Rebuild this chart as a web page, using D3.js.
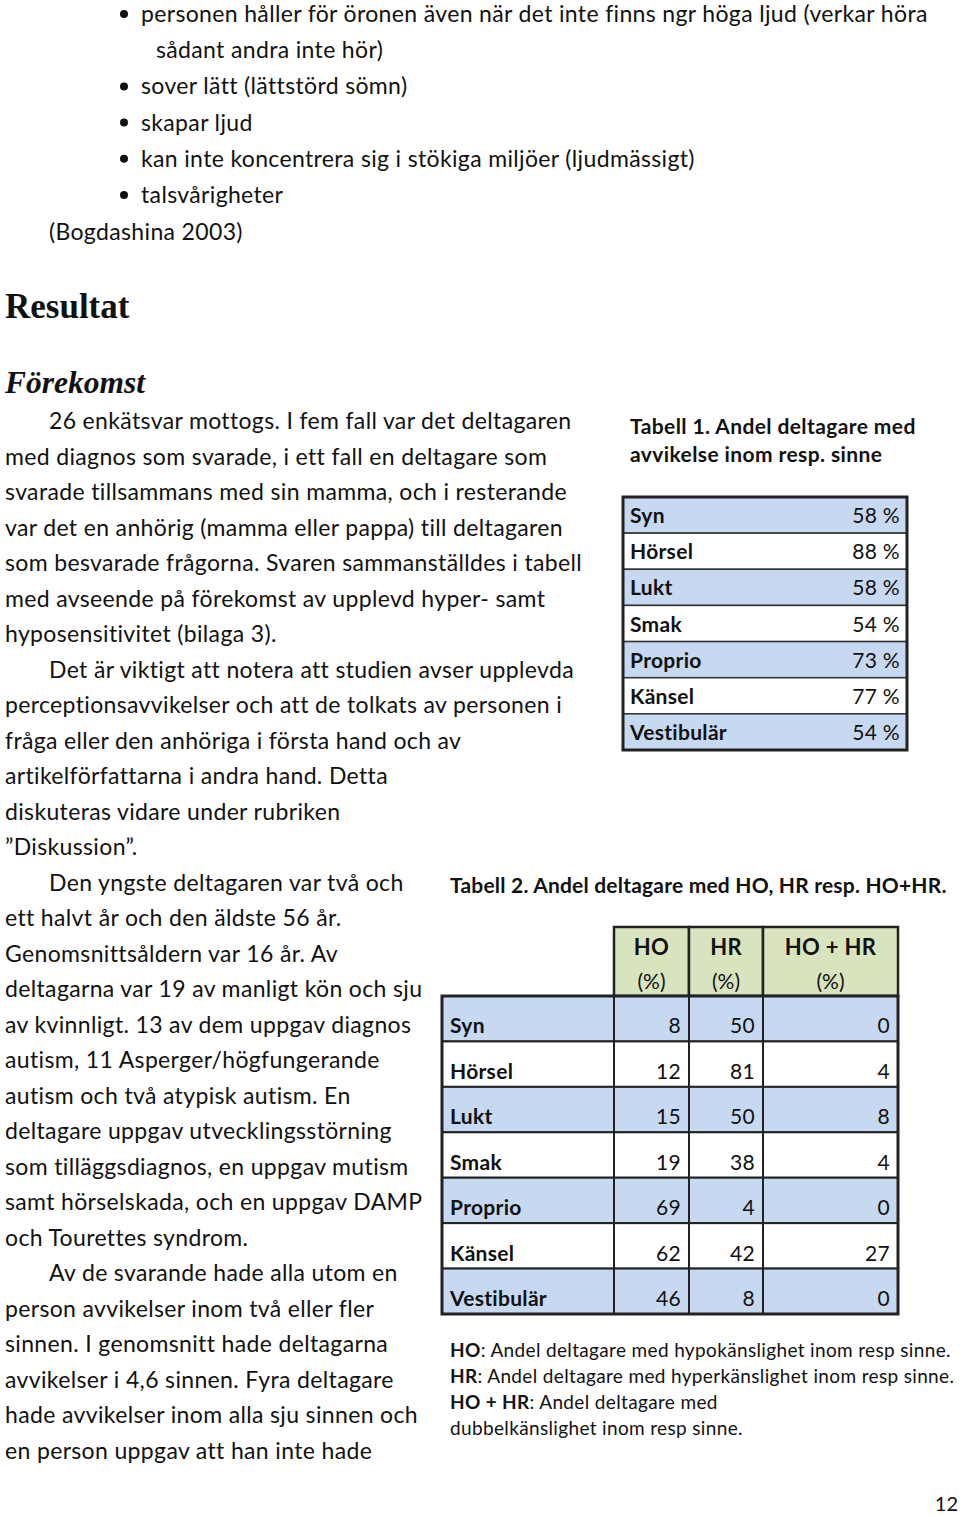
<!DOCTYPE html>
<html><head><meta charset="utf-8">
<script src="https://cdn.jsdelivr.net/npm/d3@7"></script>
<style>body{margin:0;background:#fff}svg{display:block}text{font-variant-ligatures:none}</style>
</head><body>
<svg id="page" width="960" height="1515"></svg>
<script>
// ---- data ----
const bullets = [
  ["personen håller för öronen även när det inte finns ngr höga ljud (verkar höra", "sådant andra inte hör)"],
  ["sover lätt (lättstörd sömn)"],
  ["skapar ljud"],
  ["kan inte koncentrera sig i stökiga miljöer (ljudmässigt)"],
  ["talsvårigheter"]
];
const bodyLines = [
  "26 enkätsvar mottogs. I fem fall var det deltagaren",
  "med diagnos som svarade, i ett fall en deltagare som",
  "svarade tillsammans med sin mamma, och i resterande",
  "var det en anhörig (mamma eller pappa) till deltagaren",
  "som besvarade frågorna. Svaren sammanställdes i tabell",
  "med avseende på förekomst av upplevd hyper- samt",
  "hyposensitivitet (bilaga 3).",
  "Det är viktigt att notera att studien avser upplevda",
  "perceptionsavvikelser och att de tolkats av personen i",
  "fråga eller den anhöriga i första hand och av",
  "artikelförfattarna i andra hand. Detta",
  "diskuteras vidare under rubriken",
  "”Diskussion”.",
  "Den yngste deltagaren var två och",
  "ett halvt år och den äldste 56 år.",
  "Genomsnittsåldern var 16 år. Av",
  "deltagarna var 19 av manligt kön och sju",
  "av kvinnligt. 13 av dem uppgav diagnos",
  "autism, 11 Asperger/högfungerande",
  "autism och två atypisk autism. En",
  "deltagare uppgav utvecklingsstörning",
  "som tilläggsdiagnos, en uppgav mutism",
  "samt hörselskada, och en uppgav DAMP",
  "och Tourettes syndrom.",
  "Av de svarande hade alla utom en",
  "person avvikelser inom två eller fler",
  "sinnen. I genomsnitt hade deltagarna",
  "avvikelser i 4,6 sinnen. Fyra deltagare",
  "hade avvikelser inom alla sju sinnen och",
  "en person uppgav att han inte hade"
];
const indentedLines = [0, 7, 13, 24];
const senses = ["Syn", "Hörsel", "Lukt", "Smak", "Proprio", "Känsel", "Vestibulär"];
const table1Values = [58, 88, 58, 54, 73, 77, 54];
const columns2 = ["HO", "HR", "HO + HR"];
const hoValues = [8, 12, 15, 19, 69, 62, 46];
const hrValues = [50, 81, 50, 38, 4, 42, 8];
const hoHrValues = [0, 4, 8, 4, 0, 27, 0];
const notes = [
  [["HO", true], [": Andel deltagare med hypokänslighet inom resp sinne.", false]],
  [["HR", true], [": Andel deltagare med hyperkänslighet inom resp sinne.", false]],
  [["HO + HR", true], [": Andel deltagare med", false]],
  [["dubbelkänslighet inom resp sinne.", false]]
];

// ---- drawing ----
const svg = d3.select("#page");
svg.append("rect").attr("width", 960).attr("height", 1515).attr("fill", "#fff");
const SANS = "Lato, 'Open Sans', sans-serif";
const SERIF = "'Liberation Serif', 'DejaVu Serif', serif";
const ink = "#111";
const blue = "#c6d9f0";
const green = "#d7e4bd";
const LS = 0.35;

// bullets
const bLineY = d3.scaleLinear().domain([0, 1]).range([22, 58.2]);
let li = 0;
const bg = svg.append("g").attr("font-family", SANS).attr("font-size", 23).attr("letter-spacing", LS).attr("fill", ink);
bullets.forEach(b => {
  bg.append("circle").attr("cx", 124).attr("cy", bLineY(li) - 8).attr("r", 4).attr("fill", ink);
  b.forEach((t, j) => {
    bg.append("text").attr("x", j === 0 ? 141 : 156).attr("y", bLineY(li)).text(t);
    li++;
  });
});
bg.append("text").attr("x", 49).attr("y", bLineY(li) + 1).text("(Bogdashina 2003)");

// headings
svg.append("text").attr("x", 5).attr("y", 318).attr("font-family", SERIF)
  .attr("font-weight", "bold").attr("font-size", 35).attr("fill", ink).text("Resultat");
svg.append("text").attr("x", 5).attr("y", 393).attr("font-family", SERIF)
  .attr("font-weight", "bold").attr("font-style", "italic").attr("font-size", 31.5).attr("fill", ink).text("Förekomst");

// body
const bodyY = d3.scaleLinear().domain([0, bodyLines.length - 1]).range([429, 1459]);
svg.append("g").attr("font-family", SANS).attr("font-size", 23).attr("letter-spacing", LS).attr("fill", ink)
  .selectAll("text").data(bodyLines).join("text")
  .attr("x", (d, i) => indentedLines.includes(i) ? 49 : 5)
  .attr("y", (d, i) => bodyY(i)).text(d => d);

// Table 1
const t1 = svg.append("g").attr("font-family", SANS).attr("fill", ink);
t1.append("text").attr("x", 630).attr("y", 434).attr("font-weight", "bold").attr("font-size", 21).attr("letter-spacing", 0.4).text("Tabell 1. Andel deltagare med");
t1.append("text").attr("x", 630).attr("y", 462).attr("font-weight", "bold").attr("font-size", 21).attr("letter-spacing", 0.4).text("avvikelse inom resp. sinne");
const y1 = d3.scaleBand().domain(senses).range([497, 750]);
const x1 = { left: 623, right: 907 };
const r1 = t1.selectAll("g.row").data(senses).join("g").attr("class", "row");
r1.append("rect").attr("x", x1.left).attr("y", d => y1(d)).attr("width", x1.right - x1.left)
  .attr("height", y1.bandwidth()).attr("fill", (d, i) => i % 2 === 0 ? blue : "#fff")
  .attr("stroke", "#333").attr("stroke-width", 1.5);
r1.append("text").attr("x", 630).attr("y", d => y1(d) + y1.bandwidth() / 2 + 8)
  .attr("font-weight", "bold").attr("font-size", 21).attr("letter-spacing", 0.3).text(d => d);
r1.append("text").attr("x", 900).attr("y", d => y1(d) + y1.bandwidth() / 2 + 8)
  .attr("text-anchor", "end").attr("font-size", 21).attr("letter-spacing", 0.3).text((d, i) => table1Values[i] + " %");
t1.append("rect").attr("x", x1.left).attr("y", 497).attr("width", x1.right - x1.left).attr("height", 253)
  .attr("fill", "none").attr("stroke", "#222").attr("stroke-width", 3);

// Table 2
const t2 = svg.append("g").attr("font-family", SANS).attr("fill", ink);
t2.append("text").attr("x", 450).attr("y", 893).attr("font-weight", "bold").attr("font-size", 21).attr("letter-spacing", 0.2)
  .text("Tabell 2. Andel deltagare med HO, HR resp. HO+HR.");
const colEdges = [442, 614, 689, 763, 898];
const y2 = d3.scaleBand().domain(senses).range([996, 1314]);
// header
columns2.forEach((c, i) => {
  const x0 = colEdges[i + 1], x1e = colEdges[i + 2];
  t2.append("rect").attr("x", x0).attr("y", 927).attr("width", x1e - x0).attr("height", 69)
    .attr("fill", green).attr("stroke", "#222").attr("stroke-width", 2.5);
  t2.append("text").attr("x", (x0 + x1e) / 2).attr("y", 955).attr("text-anchor", "middle")
    .attr("font-weight", "bold").attr("font-size", 22).attr("letter-spacing", 0.3).text(c);
  t2.append("text").attr("x", (x0 + x1e) / 2).attr("y", 989).attr("text-anchor", "middle")
    .attr("font-size", 21).text("(%)");
});
const colData = [hoValues, hrValues, hoHrValues];
senses.forEach((s, r) => {
  const yy = y2(s), h = y2.bandwidth();
  const fill = r % 2 === 0 ? blue : "#fff";
  for (let c = 0; c < 4; c++) {
    t2.append("rect").attr("x", colEdges[c]).attr("y", yy).attr("width", colEdges[c + 1] - colEdges[c])
      .attr("height", h).attr("fill", fill).attr("stroke", "#222").attr("stroke-width", 2);
  }
  t2.append("text").attr("x", 450).attr("y", yy + h - 8).attr("font-weight", "bold").attr("font-size", 21).attr("letter-spacing", 0.3).text(s);
  colData.forEach((vals, c) => {
    t2.append("text").attr("x", colEdges[c + 2] - 8).attr("y", yy + h - 8).attr("text-anchor", "end")
      .attr("font-size", 21).attr("letter-spacing", 0.3).text(vals[r]);
  });
});
t2.append("rect").attr("x", 442).attr("y", 996).attr("width", 898 - 442).attr("height", 318)
  .attr("fill", "none").attr("stroke", "#222").attr("stroke-width", 3);

// notes
const ny = d3.scaleLinear().domain([0, 3]).range([1357, 1435]);
const ng = svg.append("g").attr("font-family", SANS).attr("font-size", 19).attr("letter-spacing", 0.35).attr("fill", ink);
notes.forEach((parts, i) => {
  const t = ng.append("text").attr("x", 450).attr("y", ny(i));
  parts.forEach(p => t.append("tspan").attr("font-weight", p[1] ? "bold" : "normal").text(p[0]));
});

// page number
svg.append("text").attr("x", 958).attr("y", 1511).attr("text-anchor", "end")
  .attr("font-family", SANS).attr("font-size", 20).attr("fill", ink).text("12");
</script>
</body></html>
